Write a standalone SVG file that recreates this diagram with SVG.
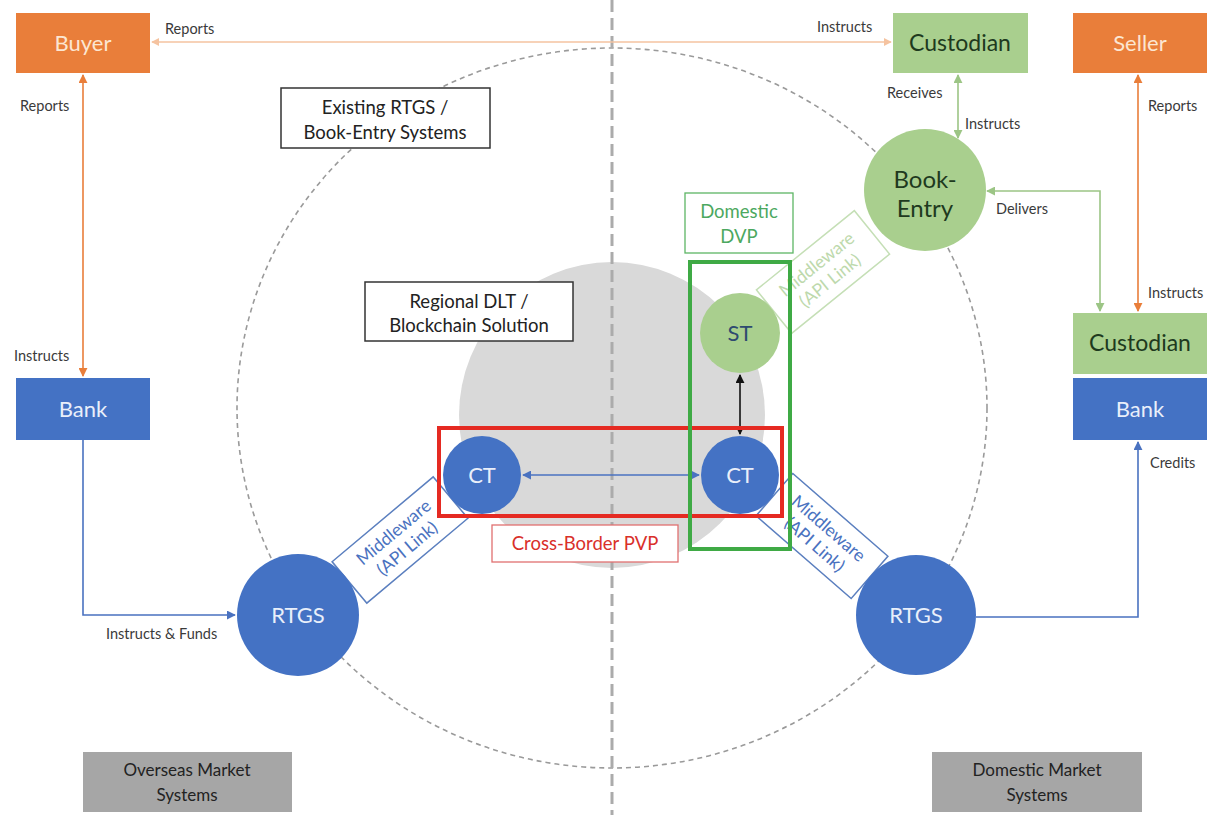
<svg xmlns="http://www.w3.org/2000/svg" width="1222" height="815" viewBox="0 0 1222 815">
  <style>
    text { font-family: Lato, "Open Sans", "Liberation Sans", sans-serif; }
    .lbl { font-size: 14.5px; fill: #3A3A3A; }
    .node-orange rect { fill: #E97E3A; }
    .node-orange text { fill: #FCE6D2; font-size: 22px; text-anchor: middle; }
    .node-green rect { fill: #A9CF8E; }
    .node-green text { fill: #1E3A1E; font-size: 23px; text-anchor: middle; }
    .node-blue rect { fill: #4472C4; }
    .node-blue text { fill: #E9EFFA; font-size: 22px; text-anchor: middle; }
    .circ-blue circle { fill: #4472C4; }
    .circ-blue text { fill: #E9EFFA; font-size: 22px; text-anchor: middle; }
    .circ-green circle { fill: #A9CF8E; }
    .circ-green text { fill: #1E3A1E; font-size: 24px; text-anchor: middle; }
    .tag rect { fill: #FFFFFF; }
    .tag text { font-size: 18.5px; text-anchor: middle; }
    .gray text { fill: #222; font-size: 17px; text-anchor: middle; }
    .mw text { font-size: 17.5px; text-anchor: middle; }
    .conn { fill: none; stroke-width: 1.6; }
  </style>
  <defs>
    <marker id="ah-lorange" viewBox="0 0 10 10" refX="9" refY="5" markerWidth="8" markerHeight="8" markerUnits="userSpaceOnUse" orient="auto-start-reverse">
      <path d="M0,0 L10,5 L0,10 z" fill="#F5C3A0"/>
    </marker>
    <marker id="ah-orange" viewBox="0 0 10 10" refX="9" refY="5" markerWidth="9" markerHeight="9" markerUnits="userSpaceOnUse" orient="auto-start-reverse">
      <path d="M0,0 L10,5 L0,10 z" fill="#E97E3A"/>
    </marker>
    <marker id="ah-green" viewBox="0 0 10 10" refX="9" refY="5" markerWidth="9" markerHeight="9" markerUnits="userSpaceOnUse" orient="auto-start-reverse">
      <path d="M0,0 L10,5 L0,10 z" fill="#9CC585"/>
    </marker>
    <marker id="ah-blue" viewBox="0 0 10 10" refX="9" refY="5" markerWidth="9" markerHeight="9" markerUnits="userSpaceOnUse" orient="auto-start-reverse">
      <path d="M0,0 L10,5 L0,10 z" fill="#4A72C0"/>
    </marker>
    <marker id="ah-black" viewBox="0 0 10 10" refX="9" refY="5" markerWidth="9" markerHeight="9" markerUnits="userSpaceOnUse" orient="auto-start-reverse">
      <path d="M0,0 L10,5 L0,10 z" fill="#111"/>
    </marker>
  </defs>

  <rect width="1222" height="815" fill="#FFFFFF"/>

  <!-- background regions -->
  <g id="regions">
    <circle cx="612" cy="415" r="153" fill="#D9D9D9"/>
    <ellipse cx="612" cy="408" rx="375" ry="360" fill="none" stroke="#9A9A9A" stroke-width="1.6" stroke-dasharray="5 4"/>
    <line x1="612" y1="0" x2="612" y2="815" stroke="#ABABAB" stroke-width="3" stroke-dasharray="12 6"/>
  </g>

  <!-- connectors -->
  <g id="connectors">
    <line class="conn" x1="152" y1="42" x2="891" y2="42" stroke="#F5C3A0" marker-start="url(#ah-lorange)" marker-end="url(#ah-lorange)"/>
    <line class="conn" x1="83" y1="75" x2="83" y2="376" stroke="#E97E3A" marker-start="url(#ah-orange)" marker-end="url(#ah-orange)"/>
    <line class="conn" x1="1138" y1="75" x2="1138" y2="311" stroke="#E97E3A" marker-start="url(#ah-orange)" marker-end="url(#ah-orange)"/>
    <line class="conn" x1="958" y1="75" x2="958" y2="138" stroke="#9CC585" marker-start="url(#ah-green)" marker-end="url(#ah-green)"/>
    <path class="conn" d="M987,191 H1100 V311" stroke="#9CC585" marker-start="url(#ah-green)" marker-end="url(#ah-green)"/>
    <path class="conn" d="M83,440 V615 H235" stroke="#4A72C0" marker-end="url(#ah-blue)"/>
    <path class="conn" d="M976,617 H1138 V442" stroke="#4A72C0" marker-end="url(#ah-blue)"/>
    <line class="conn" x1="523" y1="475" x2="699" y2="475" stroke="#4A72C0" stroke-width="1.3" marker-start="url(#ah-blue)" marker-end="url(#ah-blue)"/>
    <line class="conn" x1="740" y1="375" x2="740" y2="434" stroke="#111" stroke-width="1.3" marker-start="url(#ah-black)" marker-end="url(#ah-black)"/>

    <text class="lbl" x="165" y="34">Reports</text>
    <text class="lbl" x="817" y="32">Instructs</text>
    <text class="lbl" x="20" y="111">Reports</text>
    <text class="lbl" x="14" y="361">Instructs</text>
    <text class="lbl" x="1148" y="111">Reports</text>
    <text class="lbl" x="1148" y="298">Instructs</text>
    <text class="lbl" x="887" y="98">Receives</text>
    <text class="lbl" x="965" y="129">Instructs</text>
    <text class="lbl" x="996" y="214">Delivers</text>
    <text class="lbl" x="106" y="639">Instructs &amp; Funds</text>
    <text class="lbl" x="1150" y="468">Credits</text>
  </g>

  <!-- middleware links (drawn under the circles they join) -->
  <g id="middleware-left" class="mw" transform="translate(400,540) rotate(-40)">
    <rect x="-66" y="-27" width="132" height="54" fill="#FFFFFF" stroke="#5B7FBF" stroke-width="1.5"/>
    <text x="0" y="-4" fill="#4A72C0">Middleware</text>
    <text x="0" y="17" fill="#4A72C0">(API Link)</text>
  </g>
  <g id="middleware-right" class="mw" transform="translate(822,536) rotate(41)">
    <rect x="-63" y="-28" width="126" height="56" fill="#FFFFFF" stroke="#5B7FBF" stroke-width="1.5"/>
    <text x="0" y="-4" fill="#4A72C0">Middleware</text>
    <text x="0" y="17" fill="#4A72C0">(API Link)</text>
  </g>
  <g id="middleware-top" class="mw" transform="translate(823,272) rotate(-39)">
    <rect x="-63" y="-28" width="126" height="56" fill="none" stroke="#C5DFB6" stroke-width="1.5"/>
    <text x="0" y="-4" fill="#BDD9AC">Middleware</text>
    <text x="0" y="17" fill="#BDD9AC">(API Link)</text>
  </g>

  <!-- settlement boundaries -->
  <g id="pvp-frame">
    <rect x="439" y="428" width="343" height="88" fill="none" stroke="#E52A22" stroke-width="4"/>
  </g>
  <g id="dvp-frame">
    <rect x="690" y="262" width="100" height="287" fill="none" stroke="#3FAA45" stroke-width="4"/>
  </g>

  <!-- top row -->
  <g id="buyer" class="node-orange">
    <rect x="16" y="13" width="134" height="60"/>
    <text x="83" y="51">Buyer</text>
  </g>
  <g id="seller" class="node-orange">
    <rect x="1073" y="13" width="134" height="60"/>
    <text x="1140" y="51">Seller</text>
  </g>
  <g id="custodian-top" class="node-green">
    <rect x="893" y="13" width="135" height="60"/>
    <text x="960" y="51">Custodian</text>
  </g>

  <!-- right side boxes -->
  <g id="custodian-right" class="node-green">
    <rect x="1073" y="313" width="134" height="61"/>
    <text x="1140" y="351">Custodian</text>
  </g>
  <g id="bank-right" class="node-blue">
    <rect x="1073" y="378" width="134" height="62"/>
    <text x="1140" y="417">Bank</text>
  </g>
  <g id="bank-left" class="node-blue">
    <rect x="16" y="378" width="134" height="62"/>
    <text x="83" y="417">Bank</text>
  </g>

  <!-- circles -->
  <g id="book-entry" class="circ-green">
    <circle cx="925" cy="190" r="61"/>
    <text x="925" y="188">Book-</text>
    <text x="925" y="217">Entry</text>
  </g>
  <g id="st" class="circ-green">
    <circle cx="740" cy="333" r="40"/>
    <text x="740" y="341" style="fill:#2E4A70;font-size:22px">ST</text>
  </g>
  <g id="ct-left" class="circ-blue">
    <circle cx="482" cy="475" r="39"/>
    <text x="482" y="483">CT</text>
  </g>
  <g id="ct-right" class="circ-blue">
    <circle cx="740" cy="475" r="39"/>
    <text x="740" y="483">CT</text>
  </g>
  <g id="rtgs-left" class="circ-blue">
    <circle cx="298" cy="615" r="61"/>
    <text x="298" y="623">RTGS</text>
  </g>
  <g id="rtgs-right" class="circ-blue">
    <circle cx="916" cy="615" r="60"/>
    <text x="916" y="623">RTGS</text>
  </g>

  <!-- caption boxes -->
  <g id="existing-rtgs" class="tag">
    <rect x="281" y="88" width="209" height="60" stroke="#333" stroke-width="1.5"/>
    <text x="385" y="114" fill="#222">Existing RTGS /</text>
    <text x="385" y="139" fill="#222">Book-Entry Systems</text>
  </g>
  <g id="regional-dlt" class="tag">
    <rect x="365" y="282" width="208" height="59" stroke="#333" stroke-width="1.5"/>
    <text x="469" y="308" fill="#222">Regional DLT /</text>
    <text x="469" y="332" fill="#222">Blockchain Solution</text>
  </g>
  <g id="domestic-dvp" class="tag">
    <rect x="685" y="193" width="108" height="60" stroke="#5DB565" stroke-width="1.3"/>
    <text x="739" y="218" fill="#4CA860">Domestic</text>
    <text x="739" y="243" fill="#4CA860">DVP</text>
  </g>
  <g id="cross-border-pvp" class="tag">
    <rect x="492" y="525" width="186" height="37" stroke="#E07070" stroke-width="1.3"/>
    <text x="585" y="550" fill="#D9302A">Cross-Border PVP</text>
  </g>

  <!-- market system labels -->
  <g id="overseas-market" class="gray">
    <rect x="83" y="752" width="209" height="60" fill="#A6A6A6"/>
    <text x="187" y="776">Overseas Market</text>
    <text x="187" y="801">Systems</text>
  </g>
  <g id="domestic-market" class="gray">
    <rect x="932" y="752" width="210" height="60" fill="#A6A6A6"/>
    <text x="1037" y="776">Domestic Market</text>
    <text x="1037" y="801">Systems</text>
  </g>
</svg>
